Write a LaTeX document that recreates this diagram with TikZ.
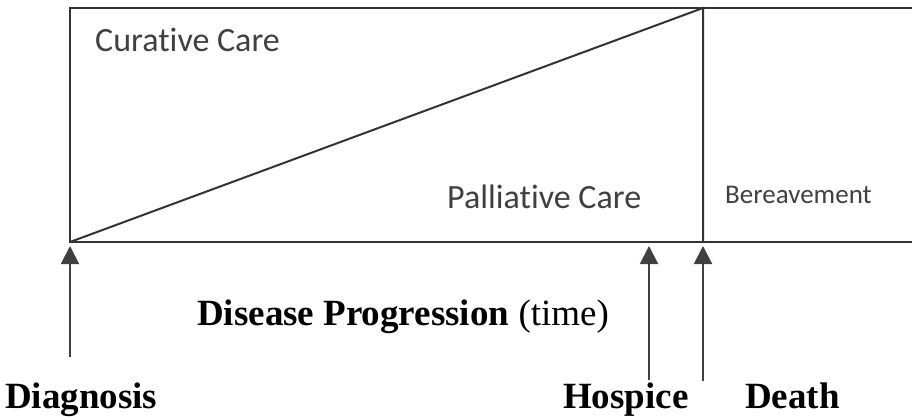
\documentclass[tikz,border=0pt]{standalone}
\usepackage{fontspec}
\setmainfont{Liberation Serif}
\newfontfamily\carefont[RawFeature=-liga]{Carlito}
\usetikzlibrary{arrows.meta}

\begin{document}
\begin{tikzpicture}[x=1pt,y=-1pt,
    careline/.style={line width=2pt,draw=black!80},
    upmark/.style={-{Triangle[width=18pt,length=18pt]},line width=2pt,draw=black!75},
    phase/.style={font=\carefont\fontsize{34}{34}\selectfont,text=black!75,anchor=base west,inner sep=0pt},
    event/.style={font=\bfseries\fontsize{37}{37}\selectfont,anchor=base west,inner sep=0pt}]
    \useasboundingbox (0,0) rectangle (912,417);

    % Care box
    \coordinate (start) at (70,242);
    \coordinate (death) at (703,242);
    \coordinate (turn) at (703,8);
    \draw[careline] (912,8) -- (70,8) -- (start) -- (912,242);
    \draw[careline] (start) -- (turn) -- (death);

    % Phases of care
    \node[phase] (curative) at (95,52) {Curative Care};
    \node[phase] (palliative) at (447,208) {Palliative Care};
    \node[phase,font=\carefont\fontsize{27}{27}\selectfont] (bereave) at (725,203) {Bereavement};

    % Time line and events
    \node[event] (progress) at (197,325) {Disease Progression \textmd{(time)}};
    \node[event] (diagnosis) at (5,408) {Diagnosis};
    \node[event] (hospice) at (563,408) {Hospice};
    \node[event] (deathlabel) at (745,408) {Death};

    \coordinate (diagtail) at (70,357);
    \coordinate (diagtip) at (70,246);
    \coordinate (hosptail) at (649,380);
    \coordinate (hosptip) at (649,246);
    \coordinate (deathtail) at (703,381);
    \coordinate (deathtip) at (703,246);
    \draw[upmark] (diagtail) -- (diagtip);
    \draw[upmark] (hosptail) -- (hosptip);
    \draw[upmark] (deathtail) -- (deathtip);
\end{tikzpicture}
\end{document}
